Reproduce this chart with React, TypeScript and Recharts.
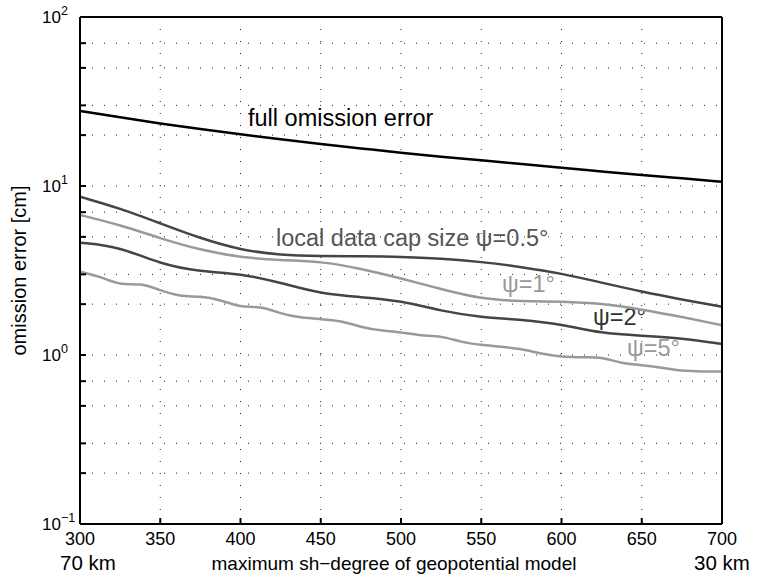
import React from "react";
import {
  LineChart,
  Line,
  CartesianGrid,
  XAxis,
  YAxis,
} from "recharts";

// sh-degree sampling
const degrees = [
  300, 325, 350, 375, 400, 425, 450, 475, 500, 525, 550, 575, 600, 625, 650,
  675, 700,
];
const degreesFine = [
  300, 312.5, 325, 337.5, 350, 362.5, 375, 387.5, 400, 412.5, 425, 437.5, 450,
  462.5, 475, 487.5, 500, 512.5, 525, 537.5, 550, 562.5, 575, 587.5, 600,
  612.5, 625, 637.5, 650, 662.5, 675, 687.5, 700,
];

// omission error [cm]
const fullOmission = [
  27.8, 25.5, 23.4, 21.7, 20.2, 18.9, 17.7, 16.7, 15.7, 14.9, 14.2, 13.5, 12.8,
  12.2, 11.6, 11.1, 10.6,
];
const cap05 = [
  8.64, 7.38, 6.01, 4.9, 4.18, 3.9, 3.85, 3.84, 3.82, 3.72, 3.56, 3.32, 3.04,
  2.68, 2.37, 2.13, 1.93,
];
const cap1 = [
  6.74, 5.88, 4.9, 4.18, 3.77, 3.64, 3.58, 3.25, 2.84, 2.45, 2.14, 2.08, 2.07,
  2.02, 1.86, 1.68, 1.5,
];
const cap2 = [
  4.62, 4.37, 3.45, 3.11, 3.04, 2.68, 2.3, 2.2, 2.1, 1.82, 1.67, 1.62, 1.52,
  1.34, 1.3, 1.26, 1.16,
];
const cap5 = [
  3.11, 2.89, 2.65, 2.61, 2.42, 2.25, 2.21, 2.1, 1.95, 1.91, 1.77, 1.67, 1.63,
  1.58, 1.47, 1.4, 1.36, 1.31, 1.28, 1.2, 1.15, 1.12, 1.08, 1.02, 0.98, 0.97,
  0.96, 0.9, 0.87, 0.84, 0.81, 0.8, 0.8,
];

const xTicks = [300, 350, 400, 450, 500, 550, 600, 650, 700];
const yTicks = [
  0.1, 0.2, 0.3, 0.4, 0.5, 0.6, 0.7, 0.8, 0.9, 1, 2, 3, 4, 5, 6, 7, 8, 9, 10,
  20, 30, 40, 50, 60, 70, 80, 90, 100,
];
const decadeExp: Record<string, string> = {
  "0.1": "\u22121",
  "1": "0",
  "10": "1",
  "100": "2",
};

const FONT = "'Liberation Sans', Arial, Helvetica, sans-serif";

const toPoints = (xs: number[], ys: number[]) =>
  xs.map((d, i) => ({ deg: d, v: ys[i] }));

const YTick = (props: any) => {
  const { x, y, payload } = props;
  const exp = decadeExp[String(payload.value)];
  if (exp === undefined) return <g />;
  return (
    <g fontFamily={FONT} fill="#000">
      <text x={x} y={y + 6} textAnchor="end" fontSize={17}>
        10
      </text>
      <text x={x} y={y - 2} textAnchor="start" fontSize={12.5}>
        {exp}
      </text>
    </g>
  );
};

const XTick = (props: any) => {
  const { x, y, payload } = props;
  return (
    <g fontFamily={FONT} fill="#000">
      <text x={x} y={y} textAnchor="middle" fontSize={18}>
        {payload.value}
      </text>
      {payload.value === 300 && (
        <text x={x - 20} y={y + 25} textAnchor="start" fontSize={20.5}>
          70 km
        </text>
      )}
      {payload.value === 700 && (
        <text x={x} y={y + 25} textAnchor="middle" fontSize={20.5}>
          30 km
        </text>
      )}
    </g>
  );
};

const App = () => {
  return (
    <div style={{ position: "absolute", left: 0, top: 0 }}>
      <LineChart
        width={764}
        height={578}
        margin={{ top: 0, right: 0, bottom: 0, left: 0 }}
      >
        <CartesianGrid
          stroke="#222"
          strokeDasharray="1 11"
          strokeWidth={1}
        />
        <XAxis
          dataKey="deg"
          type="number"
          domain={[300, 700]}
          ticks={xTicks}
          height={54}
          tickSize={-6}
          tickMargin={27}
          stroke="#000"
          strokeWidth={2}
          tick={<XTick />}
        />
        <XAxis
          xAxisId="top"
          dataKey="deg"
          type="number"
          orientation="top"
          domain={[300, 700]}
          ticks={xTicks}
          height={17}
          tickSize={-6}
          stroke="#000"
          strokeWidth={2}
          tick={false}
        />
        <YAxis
          type="number"
          scale="log"
          domain={[0.1, 100]}
          ticks={yTicks}
          allowDataOverflow
          width={80}
          tickSize={-6}
          tickMargin={25}
          stroke="#000"
          strokeWidth={2}
          tick={<YTick />}
          label={{
            value: "omission error [cm]",
            angle: -90,
            position: "insideLeft",
            offset: 19,
            style: { fontFamily: FONT, fontSize: 20, fill: "#000", textAnchor: "middle" },
          }}
        />
        <YAxis
          yAxisId="right"
          orientation="right"
          type="number"
          scale="log"
          domain={[0.1, 100]}
          ticks={yTicks}
          allowDataOverflow
          width={42}
          tickSize={-6}
          stroke="#000"
          strokeWidth={2}
          tick={false}
        />
        <Line
          data={toPoints(degrees, fullOmission)}
          dataKey="v"
          type="basis"
          stroke="#000"
          strokeWidth={2.5}
          dot={false}
          isAnimationActive={false}
        />
        <Line
          data={toPoints(degrees, cap05)}
          dataKey="v"
          type="basis"
          stroke="#444"
          strokeWidth={2.5}
          dot={false}
          isAnimationActive={false}
        />
        <Line
          data={toPoints(degrees, cap1)}
          dataKey="v"
          type="basis"
          stroke="#999"
          strokeWidth={2.5}
          dot={false}
          isAnimationActive={false}
        />
        <Line
          data={toPoints(degrees, cap2)}
          dataKey="v"
          type="basis"
          stroke="#444"
          strokeWidth={2.5}
          dot={false}
          isAnimationActive={false}
        />
        <Line
          data={toPoints(degreesFine, cap5)}
          dataKey="v"
          type="natural"
          stroke="#999"
          strokeWidth={2.5}
          dot={false}
          isAnimationActive={false}
        />
        <g fontFamily={FONT}>
          <text x={248} y={126} fontSize={23.5} fill="#000">
            full omission error
          </text>
          <text x={276} y={246} fontSize={23.5} fill="#555">
            local data cap size ψ=0.5°
          </text>
          <text x={502} y={292} fontSize={23.5} fill="#999">
            ψ=1°
          </text>
          <text x={593} y={325} fontSize={23.5} fill="#333">
            ψ=2°
          </text>
          <text x={627} y={356} fontSize={23.5} fill="#999">
            ψ=5°
          </text>
          <text x={394} y={570} fontSize={19} fill="#000" textAnchor="middle">
            maximum sh−degree of geopotential model
          </text>
        </g>
      </LineChart>
    </div>
  );
};

export default App;
